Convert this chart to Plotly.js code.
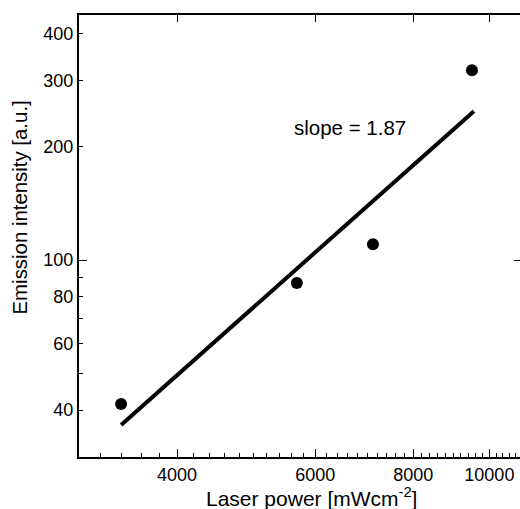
<!DOCTYPE html>
<html>
<head>
<meta charset="utf-8">
<script src="https://cdn.plot.ly/plotly-3.0.1.min.js"></script>
<style>html,body{margin:0;padding:0;overflow:hidden;background:#fff;}</style>
</head>
<body>
<div id="chart" style="width:524px;height:509px;"></div>
<script>
// Measured data points
const laserPower = [3395, 5685, 7107, 9502];
const emission = [41.5, 86.9, 110.2, 319];
// Fitted line (slope = 1.87 on log-log)
const fitPower = [3395, 9557];
const fitEmission = [36.5, 248.4];

const xTickVals = [4000, 6000, 8000, 10000];
const xTickText = ['4000', '6000', '8000', '10000'];
const xMinorVals = [3200, 3400, 3600, 3800, 4200, 4400, 4600, 4800, 5000, 5200, 5400, 5600, 5800,
  6200, 6400, 6600, 6800, 7000, 7200, 7400, 7600, 7800, 8200, 8400, 8600, 8800, 9000, 9200, 9400,
  9600, 9800, 10200, 10400, 10600, 10800];
const yTickVals = [40, 60, 80, 100, 200, 300, 400];
const yTickText = ['40', '60', '80', '100', '200', '300', '400'];
const yMinorVals = [50, 70, 90];
const yMajorVals = [100];

const xTitle = 'Laser power [mWcm<sup>-2</sup>]';
const yTitle = 'Emission intensity [a.u.]';
const slopeLabel = 'slope = 1.87';

const xRange = [3.4772, 4.0403];
const yRange = [1.4774, 2.6506];
const font = {family: 'Liberation Sans, Arial, sans-serif', color: '#000'};

const traces = [
  {x: fitPower, y: fitEmission, mode: 'lines', line: {color: '#000', width: 4}, xaxis: 'x', yaxis: 'y', hoverinfo: 'skip'},
  {x: laserPower, y: emission, mode: 'markers', marker: {color: '#000', size: 12}, xaxis: 'x', yaxis: 'y'}
];

const layout = {
  width: 524, height: 509,
  margin: {l: 79, r: 3, t: 15, b: 52},
  paper_bgcolor: '#fff', plot_bgcolor: '#fff',
  showlegend: false,
  font: font,
  xaxis: {
    type: 'log', range: xRange, tickmode: 'array', tickvals: xTickVals, ticktext: xTickText,
    ticks: 'inside', ticklen: 8, tickwidth: 1, tickcolor: '#000',
    minor: {tickmode: 'array', tickvals: xMinorVals, ticks: 'inside', ticklen: 4, tickwidth: 1, tickcolor: '#000', showgrid: false},
    showline: true, linewidth: 2, linecolor: '#000', showgrid: false, zeroline: false,
    tickfont: {size: 18, color: '#000'}
  },
  xaxis2: {
    type: 'log', range: xRange, overlaying: 'x', side: 'top', anchor: 'y',
    tickmode: 'array', tickvals: xTickVals, showticklabels: false,
    ticks: 'inside', ticklen: 7, tickwidth: 1, tickcolor: '#000',
    showline: true, linewidth: 2, linecolor: '#000', showgrid: false, zeroline: false
  },
  yaxis: {
    type: 'log', range: yRange, tickmode: 'array', tickvals: yTickVals, ticktext: yTickText,
    ticks: 'inside', ticklen: 4, tickwidth: 1, tickcolor: '#000',
    minor: {tickmode: 'array', tickvals: yMinorVals, ticks: 'inside', ticklen: 4, tickwidth: 1, tickcolor: '#000', showgrid: false},
    showline: true, linewidth: 2, linecolor: '#000', showgrid: false, zeroline: false,
    tickfont: {size: 18, color: '#000'}
  },
  yaxis2: {
    type: 'log', range: yRange, overlaying: 'y', side: 'right', anchor: 'x',
    tickmode: 'array', tickvals: yMajorVals, showticklabels: false,
    ticks: 'inside', ticklen: 7, tickwidth: 1, tickcolor: '#000',
    showline: true, linewidth: 2, linecolor: '#000', showgrid: false, zeroline: false
  },
  yaxis3: {
    type: 'log', range: yRange, overlaying: 'y', side: 'left', anchor: 'x',
    tickmode: 'array', tickvals: yMajorVals, showticklabels: false,
    ticks: 'inside', ticklen: 8, tickwidth: 1, tickcolor: '#000',
    showline: false, showgrid: false, zeroline: false
  },
  annotations: [
    {x: Math.log10(6644), y: Math.log10(225), xref: 'x', yref: 'y',
     text: slopeLabel, showarrow: false, font: {size: 20.5, color: '#000'}},
    {x: 0.5249, y: -0.0895, xref: 'paper', yref: 'paper', xanchor: 'center', yanchor: 'middle',
     text: xTitle, showarrow: false, font: {size: 21, color: '#000'}},
    {x: -0.1335, y: 0.5645, xref: 'paper', yref: 'paper', xanchor: 'center', yanchor: 'middle',
     textangle: -90, text: yTitle, showarrow: false, font: {size: 20.4, color: '#000'}}
  ]
};

// Empty traces so the overlay axes are drawn
traces.push({x: [], y: [], xaxis: 'x2', yaxis: 'y', hoverinfo: 'skip', showlegend: false});
traces.push({x: [], y: [], xaxis: 'x', yaxis: 'y2', hoverinfo: 'skip', showlegend: false});
traces.push({x: [], y: [], xaxis: 'x', yaxis: 'y3', hoverinfo: 'skip', showlegend: false});

Plotly.newPlot('chart', traces, layout, {displayModeBar: false, staticPlot: true});
</script>
</body>
</html>
